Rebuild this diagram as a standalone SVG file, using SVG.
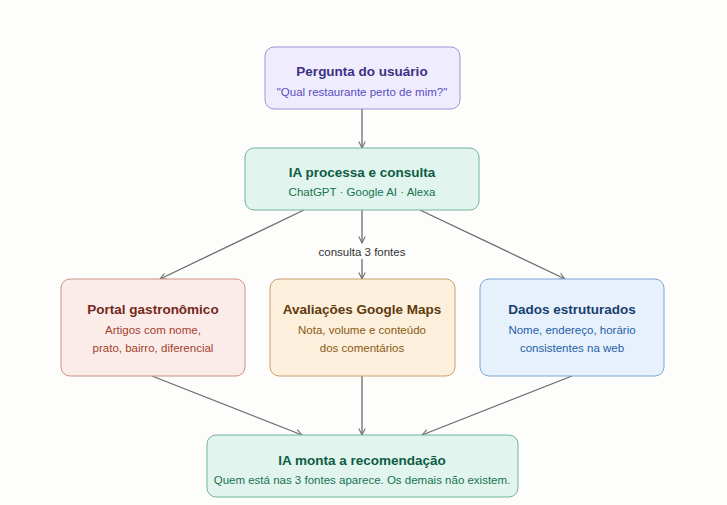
<svg xmlns="http://www.w3.org/2000/svg" width="727" height="505" viewBox="0 0 727 505">
<style>
.t{font-family:"Liberation Sans",Arial,sans-serif;font-size:13.5px;font-weight:bold;text-anchor:middle}
.s{font-family:"Liberation Sans",Arial,sans-serif;font-size:11.5px;text-anchor:middle}
.e{stroke:#6b6b6b;stroke-width:1.3;fill:none;marker-end:url(#a)}
</style>
<defs><marker id="a" viewBox="0 0 10 10" refX="9" refY="5" markerWidth="8" markerHeight="8" orient="auto" markerUnits="userSpaceOnUse"><path d="M1 1L9 5L1 9" fill="none" stroke="#6b6b6b" stroke-width="1.3"/></marker></defs>
<rect width="727" height="505" fill="#fdfdfc"/>
<g id="connectors">
<path class="e" d="M362 109V148"/>
<path class="e" d="M304 210L160 279"/>
<path class="e" d="M362 210V243"/>
<path class="e" d="M362 259V279"/>
<path class="e" d="M420 210L565 279"/>
<path class="e" d="M152 376L302 435"/>
<path class="e" d="M362 376V435"/>
<path class="e" d="M572 376L422 435"/>
<text class="s" x="362" y="256" fill="#333">consulta 3 fontes</text>
</g>
<g id="n1"><rect x="265" y="47" width="195" height="62" rx="9" fill="#efedfd" stroke="#9d94d8"/>
<text class="t" x="362" y="76" fill="#3b3183">Pergunta do usuário</text><text class="s" x="362" y="96" fill="#5a4cc0">"Qual restaurante perto de mim?"</text></g>
<g id="n2"><rect x="245" y="148" width="234" height="62" rx="9" fill="#e1f5ee" stroke="#6fb59a"/>
<text class="t" x="362" y="177" fill="#0e5c43">IA processa e consulta</text><text class="s" x="362" y="196" fill="#17734f">ChatGPT · Google AI · Alexa</text></g>
<g id="n3"><rect x="61" y="279" width="184" height="97" rx="9" fill="#fbecea" stroke="#cf8f84"/>
<text class="t" x="153" y="314" fill="#73281a">Portal gastronômico</text><text class="s" x="153" y="334" fill="#a43e2a">Artigos com nome,</text><text class="s" x="153" y="352" fill="#a43e2a">prato, bairro, diferencial</text></g>
<g id="n4"><rect x="270" y="279" width="185" height="97" rx="9" fill="#fcefdc" stroke="#c9a06a"/>
<text class="t" x="362" y="314" fill="#5e3a0e">Avaliações Google Maps</text><text class="s" x="362" y="334" fill="#8a5a14">Nota, volume e conteúdo</text><text class="s" x="362" y="352" fill="#8a5a14">dos comentários</text></g>
<g id="n5"><rect x="480" y="279" width="184" height="97" rx="9" fill="#e7f1fc" stroke="#7aa6d4"/>
<text class="t" x="572" y="314" fill="#173f70">Dados estruturados</text><text class="s" x="572" y="334" fill="#2560a8">Nome, endereço, horário</text><text class="s" x="572" y="352" fill="#2560a8">consistentes na web</text></g>
<g id="n6"><rect x="207" y="435" width="311" height="62" rx="9" fill="#e1f5ee" stroke="#6fb59a"/>
<text class="t" x="362" y="465" fill="#0e5c43">IA monta a recomendação</text><text class="s" x="362" y="484" fill="#17734f">Quem está nas 3 fontes aparece. Os demais não existem.</text></g>
</svg>
